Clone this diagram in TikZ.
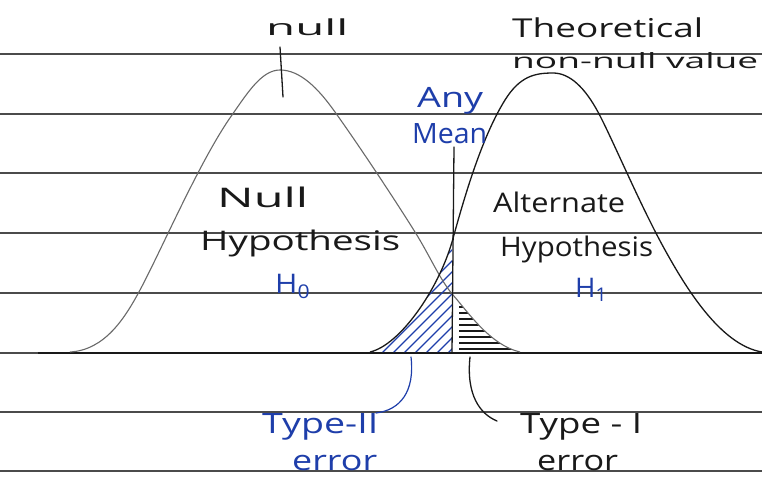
\documentclass[tikz,border=0pt]{standalone}
\usepackage{fontspec}
\setmainfont{Open Sans}
\definecolor{pen}{RGB}{30,62,170}
\definecolor{ink}{RGB}{25,25,25}
\definecolor{rulecol}{RGB}{75,75,75}
\definecolor{pencil}{RGB}{105,105,105}
\newcommand{\hw}[3]{{\fontsize{#2}{#2}\selectfont\resizebox{#1}{\height}{#3}}}
\begin{document}
\begin{tikzpicture}[x=1pt,y=-1pt,
  lbl/.style={inner sep=0pt, text=ink, anchor=base west},
  bluelbl/.style={inner sep=0pt, text=pen, anchor=base west},
  paperline/.style={draw=rulecol, line width=1.3pt},
  axisline/.style={draw=ink, line width=2pt},
  nullcurve/.style={draw=pencil, line width=1.1pt},
  altcurve/.style={draw=ink, line width=1.3pt},
  inkline/.style={draw=ink, line width=1.3pt, line cap=round},
  penline/.style={draw=pen, line width=1.2pt, line cap=round},
  bluehatch/.style={draw=pen, line width=1.1pt},
  blackhatch/.style={draw=ink, line width=1.3pt}]
\clip (0,0) rectangle (762,479);
\fill[white] (0,0) rectangle (762,479);
% lined paper
\foreach \yy in {54,114,173,233,293,353,412,471}
  \draw[paperline] (0,\yy) -- (762,\yy);
\draw[axisline] (38,353) -- (762,353);
% type II region (blue diagonal hatching)
\begin{scope}
  \clip (370,352) .. controls (400,345) and (438,290) .. (452,242) -- (452,352) -- cycle;
  \foreach \xx in {280,291,...,460}
    \draw[bluehatch] (\xx,356) -- ++(140,-140);
\end{scope}
% type I region (black horizontal hatching)
\begin{scope}
  \clip (453,295) .. controls (468,312) and (490,345) .. (520,352) -- (453,352) -- cycle;
  \foreach \yy in {301,307,...,349}
    \draw[blackhatch] (459,\yy) -- (530,\yy);
\end{scope}
% null distribution
\draw[nullcurve] (70,352) .. controls (105,350) and (125,318) .. (140,290)
  .. controls (160,253) and (200,160) .. (232,115)
  .. controls (248,92) and (262,70) .. (280,70)
  .. controls (300,70) and (318,88) .. (335,112)
  .. controls (360,147) and (395,200) .. (415,232)
  .. controls (430,256) and (440,280) .. (453,295)
  .. controls (468,312) and (490,345) .. (520,352);
% alternate distribution
\draw[altcurve] (370,352) .. controls (400,345) and (438,290) .. (452,242)
  .. controls (462,206) and (480,140) .. (505,100)
  .. controls (520,76) and (535,73) .. (553,73)
  .. controls (570,73) and (585,88) .. (598,112)
  .. controls (612,138) and (640,205) .. (665,250)
  .. controls (685,286) and (720,345) .. (762,352);
% texts
\node[lbl] (nulltop) at (266,35) {\hw{82pt}{22}{null}};
\node[lbl] (theo) at (512,37) {\hw{191pt}{26}{Theoretical}};
\node[lbl] (nonnull) at (512,68) {\hw{246pt}{21}{non-null value}};
\node[bluelbl] (any) at (417,107) {\hw{66pt}{28}{Any}};
\node[bluelbl] (mean) at (412,143) {\hw{75pt}{28}{Mean}};
\node[lbl] (nullw) at (217,207) {\hw{91pt}{27}{Null}};
\node[lbl] (hypo0) at (200,250) {\hw{200pt}{27}{Hypothesis}};
\node[bluelbl] (h0) at (275,293) {\hw{35pt}{27}{H\textsubscript{0}}};
\node[lbl] (altw) at (493,212) {\hw{132pt}{27}{Alternate}};
\node[lbl] (hypo1) at (500,256) {\hw{153pt}{27}{Hypothesis}};
\node[bluelbl] (h1) at (575,297) {\hw{32pt}{27}{H\textsubscript{1}}};
\node[bluelbl] (t2) at (262,433) {\hw{116pt}{28}{Type-II}};
\node[bluelbl] (t2e) at (292,470) {\hw{85pt}{28}{error}};
\node[lbl] (t1) at (520,433) {\hw{122pt}{28}{Type - I}};
\node[lbl] (t1e) at (537,470) {\hw{81pt}{28}{error}};
% marks and leaders
\coordinate (ticktop) at (280,47);
\coordinate (tickfoot) at (283,97);
\draw[inkline] (ticktop) -- (tickfoot);
\coordinate (meantop) at (454,147);
\coordinate (meanfoot) at (452,352);
\draw[inkline] (meantop) -- (meanfoot);
\coordinate (t2start) at (411,357);
\coordinate (t2end) at (376,413);
\draw[penline] (t2start) .. controls (415,392) and (400,410) .. (t2end);
\coordinate (t1start) at (470,357);
\coordinate (t1end) at (497,421);
\draw[inkline] (t1start) .. controls (466,395) and (480,414) .. (t1end);
\end{tikzpicture}
\end{document}
